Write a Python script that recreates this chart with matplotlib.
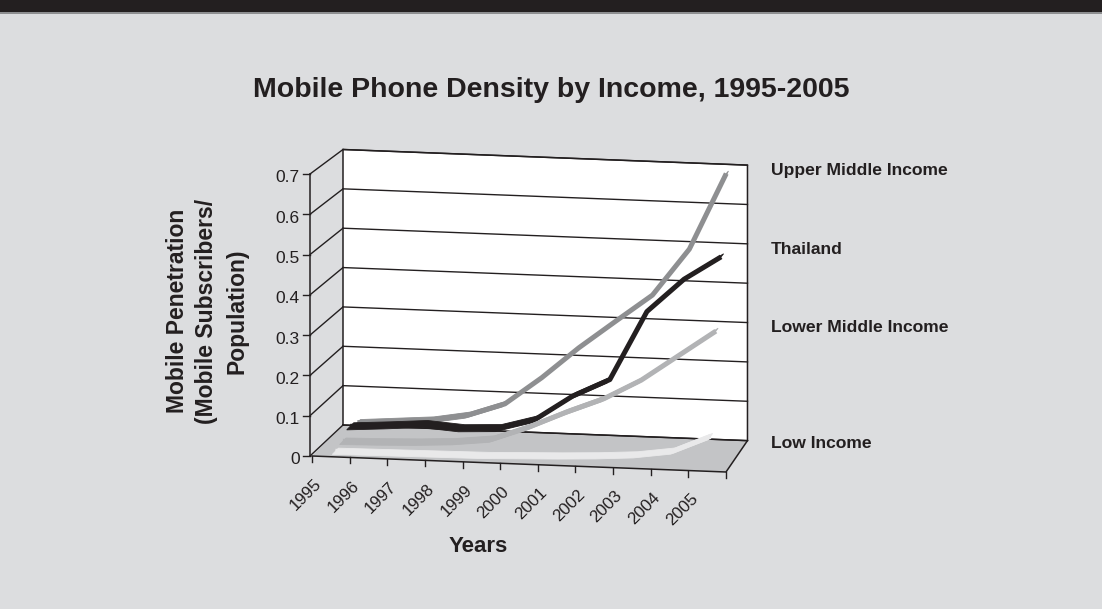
import matplotlib
matplotlib.use("Agg")
import matplotlib.pyplot as plt
from matplotlib.transforms import Affine2D
import numpy as np

# ---------------- data ----------------
years = ["1995", "1996", "1997", "1998", "1999", "2000",
         "2001", "2002", "2003", "2004", "2005"]
ytick_values = [0, 0.1, 0.2, 0.3, 0.4, 0.5, 0.6, 0.7]
ytick_labels = ["0", "0.1", "0.2", "0.3", "0.4", "0.5", "0.6", "0.7"]

series_names = ["Low Income", "Lower Middle Income", "Thailand", "Upper Middle Income"]
low_income = [0.002, 0.003, 0.004, 0.005, 0.006, 0.009, 0.012, 0.016, 0.022, 0.035, 0.075]
lower_middle_income = [0.008, 0.010, 0.013, 0.018, 0.028, 0.062, 0.103, 0.140, 0.190, 0.255, 0.320]
thailand = [0.027, 0.033, 0.040, 0.033, 0.037, 0.063, 0.125, 0.170, 0.345, 0.430, 0.490]
upper_middle_income = [0.018, 0.025, 0.032, 0.048, 0.080, 0.150, 0.229, 0.300, 0.370, 0.490, 0.685]
series_values = [low_income, lower_middle_income, thailand, upper_middle_income]
series_colors = ["#e9e9ea", "#b2b3b5", "#231f20", "#8e8f91"]

title = "Mobile Phone Density by Income, 1995-2005"
ylabel = "Mobile Penetration\n(Mobile Subscribers/\nPopulation)"
xlabel = "Years"

# ---------------- figure ----------------
W, H = 1102, 609
plt.rcParams["font.family"] = ["Liberation Sans", "DejaVu Sans"]
fig = plt.figure(figsize=(W / 100, H / 100), dpi=100)
BG = "#dcdddf"
fig.patch.set_facecolor(BG)
ax = fig.add_axes([0, 0, 1, 1])
ax.set_xlim(0, W)
ax.set_ylim(H, 0)
ax.axis("off")

# header bar
ax.fill([0, W, W, 0], [0, 0, 12, 12], color="#231f20", lw=0, zorder=0)
ax.fill([0, W, W, 0], [12, 12, 14, 14], color="#8d8e90", lw=0, zorder=0)

# ---------------- oblique 3-D projection (category, value, depth) ----------------
n = len(years)
X0, Y0 = 312.0, 456.0
front = Affine2D(np.array([[414.0 / n, 0.0, X0],
                           [16.0 / n, -282.0 / 0.7, Y0],
                           [0.0, 0.0, 1.0]]))


def depth_tr(d):
    s = 1 - 0.023 * d
    return Affine2D().translate(-X0, -Y0).scale(s).translate(X0 + 31 * d, Y0 - 31 * d)


def proj(c, v, d):
    c = np.atleast_1d(np.asarray(c, float))
    v = np.atleast_1d(np.asarray(v, float))
    d = np.broadcast_to(np.asarray(d, float), c.shape)
    out = np.empty((len(c), 2))
    for k in range(len(c)):
        out[k] = (front + depth_tr(d[k])).transform([[c[k], v[k]]])[0]
    return out[:, 0], out[:, 1]


vmax = ytick_values[-1]
LC = "#231f20"

# floor
fx, fy = proj([0, n, n, 0], [0, 0, 0, 0], [0, 0, 1, 1])
ax.fill(fx, fy, color="#c3c4c6", lw=0, zorder=1)
# back wall
wx, wy = proj([0, n, n, 0], [0, 0, vmax, vmax], [1, 1, 1, 1])
ax.fill(wx, wy, color="white", lw=0, zorder=1)
ax.plot(np.r_[wx, wx[0]], np.r_[wy, wy[0]], color=LC, lw=1.1, zorder=2)

# gridlines on back wall and the side wall
for v in ytick_values:
    gx, gy = proj([0, n], [v, v], [1, 1])
    ax.plot(gx, gy, color=LC, lw=1.0, zorder=2)
    sx, sy = proj([0, 0], [v, v], [0, 1])
    ax.plot(sx - np.array([2, 0]), sy, color=LC, lw=1.0, zorder=2)

# series ribbons, back to front
slots = [(0.05, 0.25), (0.29, 0.50), (0.52, 0.75), (0.77, 0.97)]
centers = np.arange(n) + 0.5
for k in range(len(series_values) - 1, -1, -1):
    d0, d1 = slots[k]
    vals = np.array(series_values[k])
    ax_, ay_ = proj(centers, vals, d0)
    bx_, by_ = proj(centers, vals, d1)
    mx_, my_ = proj(centers, vals, 0.5 * (d0 + d1))
    px = np.r_[ax_, bx_[::-1]]
    py = np.r_[ay_, by_[::-1]]
    z = 3 + (3 - k)
    ax.fill(px, py, color=series_colors[k], lw=0.6, ec=series_colors[k], zorder=z)
    ax.plot(mx_, my_, color=series_colors[k], lw=3.6, solid_joinstyle="round",
            solid_capstyle="butt", zorder=z)

# floor edges
ex, ey = proj([0, n, n], [0, 0, 0], [0, 0, 1])
ax.plot(ex, ey, color=LC, lw=1.1, zorder=8)

# value axis
vx, vy = proj([0, 0], [0, vmax], [0, 0])
ax.plot(vx - 2, vy, color=LC, lw=1.1, zorder=8)
for v, lab in zip(ytick_values, ytick_labels):
    tx, ty = proj([0], [v], [0])
    ax.plot([tx[0] - 9, tx[0] - 2], [ty[0], ty[0]], color=LC, lw=1.0, zorder=8)
    ax.text(tx[0] - 12, ty[0] + 4, lab, ha="right", va="center", fontsize=12.5, color=LC)

# category ticks and labels
for c in range(n + 1):
    tx, ty = proj([c], [0], [0])
    ax.plot([tx[0], tx[0]], [ty[0], ty[0] + 6], color=LC, lw=1.0, zorder=8)
for i, lab in enumerate(years):
    tx, ty = proj([i + 0.5], [0], [0])
    ax.text(tx[0] - 12, ty[0] + 25, lab, rotation=45, rotation_mode="anchor",
            ha="right", va="center", fontsize=12.2, color=LC)

# series labels at right
label_rows = {"Upper Middle Income": 171, "Thailand": 250,
              "Lower Middle Income": 328, "Low Income": 443}
for name in series_names:
    ax.text(771, label_rows[name], name, ha="left", va="center",
            fontsize=12.6, fontweight="bold", color=LC)

# titles
ax.text(551, 90, title, ha="center", va="center", fontsize=20.5, fontweight="bold", color=LC)
ax.text(207, 311, ylabel, ha="center", va="center", rotation=90, fontsize=16.5,
        fontweight="bold", color=LC, linespacing=1.38, multialignment="center")
ax.text(478, 547, xlabel, ha="center", va="center", fontsize=16, fontweight="bold", color=LC)

fig.savefig("out.png", dpi=100, facecolor=BG)
